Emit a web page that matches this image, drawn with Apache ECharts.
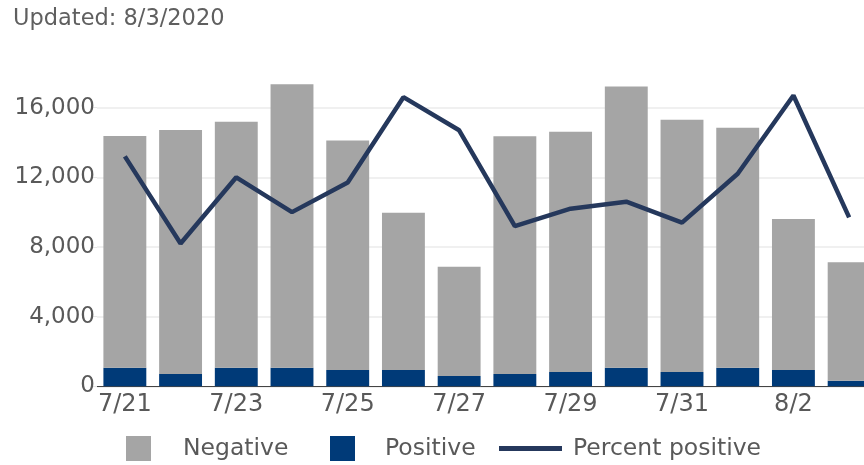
<!DOCTYPE html>
<html>
<head>
<meta charset="utf-8">
<script src="https://cdn.jsdelivr.net/npm/echarts@6/dist/echarts.min.js"></script>
<style>html,body{margin:0;padding:0;background:#fff;}#c{width:864px;height:465px;}</style>
</head>
<body>
<div id="c"></div>
<script>
const categories = ['7/21','7/22','7/23','7/24','7/25','7/26','7/27','7/28','7/29','7/30','7/31','8/1','8/2','8/3'];
const negative = [13300,14020,14120,16270,13180,9030,6280,13650,13800,16150,14490,13780,8670,6800];
const positive = [1070,700,1070,1070,940,940,590,700,820,1070,820,1070,940,320];
const percentPositive = [13.2,8.2,12.0,10.0,11.7,16.6,14.7,9.2,10.2,10.6,9.4,12.2,16.7,9.7];
const yTicks = [0,4000,8000,12000,16000];

const FONT = 'DejaVu Sans';
const TXT = '#595959';
const chart = echarts.init(document.getElementById('c'), null, {renderer:'canvas'});
const legendBase = {
  orient:'horizontal', top:436, itemGap:0, padding:0, selectedMode:false,
  textStyle:{fontFamily:FONT,fontSize:23.5,color:TXT,lineHeight:25}
};
chart.setOption({
  animation:false,
  title:{text:'Updated: 8/3/2020',left:8,top:3,textStyle:{fontFamily:FONT,fontSize:22.5,fontWeight:'normal',color:'#5f5f5f'}},
  grid:{left:97,width:780,top:72.8,bottom:78.7,containLabel:false,outerBoundsMode:'none'},
  legend:[
    Object.assign({},legendBase,{left:126,data:[{name:'Negative',icon:'rect'}],itemWidth:25,itemHeight:25,
      textStyle:Object.assign({},legendBase.textStyle,{padding:[0,0,0,27]})}),
    Object.assign({},legendBase,{left:330,data:[{name:'Positive',icon:'rect'}],itemWidth:25,itemHeight:25,
      textStyle:Object.assign({},legendBase.textStyle,{padding:[0,0,0,25]})}),
    Object.assign({},legendBase,{left:499,data:[{name:'Percent positive',icon:'rect'}],itemWidth:63,itemHeight:5,
      textStyle:Object.assign({},legendBase.textStyle,{padding:[0,0,0,6]})})
  ],
  xAxis:{type:'category',data:categories,
    axisLine:{lineStyle:{color:'#444',width:1}},axisTick:{show:false},
    axisLabel:{interval:1,margin:6,fontFamily:FONT,fontSize:24,color:TXT}},
  yAxis:[
    {type:'value',min:0,max:18000,interval:4000,
     axisLine:{show:false},axisTick:{show:true,length:4,lineStyle:{color:'#e6e6e6'}},
     axisLabel:{showMaxLabel:false,margin:2,fontFamily:FONT,fontSize:23,color:TXT,
       formatter:v=>yTicks.includes(v)?v.toLocaleString('en-US'):''},
     splitLine:{showMaxLine:false,lineStyle:{color:'#ebebeb',width:1.5}}},
    {type:'value',min:0,max:18,show:false,splitLine:{show:false}}
  ],
  series:[
    {name:'Positive',type:'bar',stack:'t',data:positive,barCategoryGap:'23%',itemStyle:{color:'#003a78'}},
    {name:'Negative',type:'bar',stack:'t',data:negative,barCategoryGap:'23%',itemStyle:{color:'#a5a5a5'}},
    {name:'Percent positive',type:'line',yAxisIndex:1,data:percentPositive,showSymbol:false,symbol:'none',
      itemStyle:{color:'#25385c'},lineStyle:{color:'#25385c',width:4.5},z:5}
  ]
});
</script>
</body>
</html>
